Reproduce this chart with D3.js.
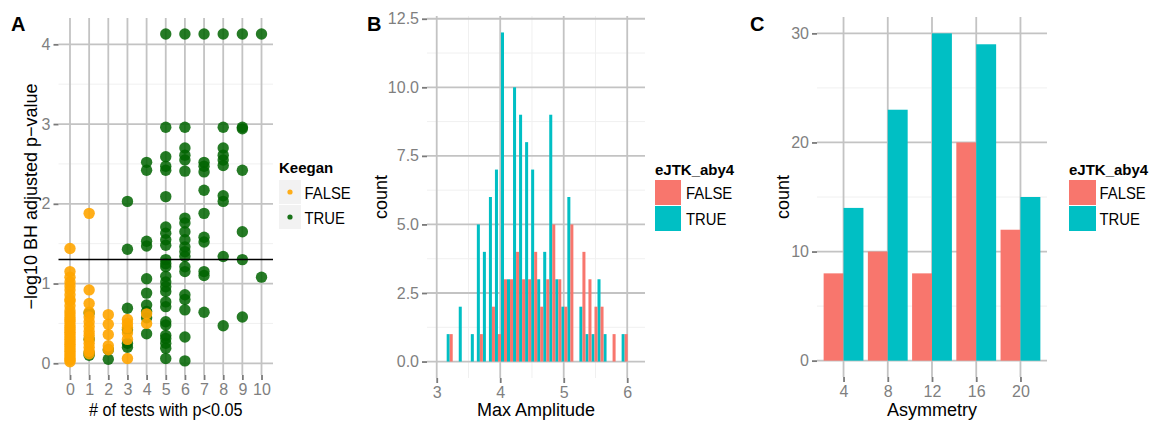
<!DOCTYPE html>
<html>
<head>
<meta charset="utf-8">
<script src="https://cdn.jsdelivr.net/npm/d3@7"></script>
<style>
  body { margin: 0; background: #fff; }
  svg text { font-family: "Liberation Sans", Arial, Helvetica, sans-serif; }
</style>
</head>
<body>
<svg id="fig" width="1153" height="421"></svg>
<script>
// ---------- Panel A: -log10 BH adjusted p-value by number of tests with p<0.05 ----------
const testCounts = [0, 1, 2, 3, 4, 5, 6, 7, 8, 9, 10];
// index = number of tests with p<0.05
const keeganFalse = [
  [1.44, 1.15, 1.08, 1.02, 0.97, 0.92, 0.86, 0.80, 0.78, 0.72, 0.66, 0.62, 0.58, 0.55, 0.52, 0.48,
   0.45, 0.42, 0.39, 0.36, 0.33, 0.30, 0.27, 0.24, 0.21, 0.18, 0.15, 0.12, 0.09, 0.06, 0.04, 0.02],
  [1.88, 0.92, 0.75, 0.64, 0.58, 0.52, 0.46, 0.40, 0.35, 0.30, 0.25, 0.20, 0.15, 0.12],
  [0.61, 0.49, 0.36, 0.22, 0.17],
  [0.55, 0.50, 0.45, 0.38, 0.30, 0.06],
  [0.62, 0.50],
  [], [], [], [], [], []
];
const keeganTrue = [
  [],
  [0.63, 0.30, 0.13, 0.10],
  [0.17, 0.05],
  [2.03, 1.43, 0.69, 0.42, 0.25, 0.20],
  [2.52, 2.42, 1.53, 1.47, 1.06, 0.88, 0.73, 0.65, 0.57, 0.37],
  [4.13, 2.96, 2.59, 2.47, 2.42, 2.09, 1.71, 1.63, 1.55, 1.48, 1.30, 1.25, 1.21, 1.09, 1.02, 0.96,
   0.90, 0.77, 0.71, 0.52, 0.48, 0.35, 0.31, 0.25, 0.19, 0.06],
  [4.13, 2.96, 2.70, 2.61, 2.55, 2.41, 1.82, 1.76, 1.65, 1.55, 1.46, 1.40, 1.34, 1.21, 1.15, 0.86,
   0.80, 0.67, 0.33, 0.03],
  [4.13, 2.52, 2.47, 2.40, 2.17, 1.88, 1.58, 1.52, 1.15, 1.10, 0.64],
  [4.13, 2.96, 2.70, 2.61, 2.55, 2.48, 2.10, 2.03, 1.34, 0.47],
  [4.13, 2.96, 2.94, 2.42, 1.65, 1.30, 0.58],
  [4.13, 1.08]
];
const pThreshold = -Math.log10(0.05);
const ticksAx = [0, 1, 2, 3, 4, 5, 6, 7, 8, 9, 10];
const ticksAy = [0, 1, 2, 3, 4];

// ---------- Panel B: histogram of max amplitude (30 bins) ----------
const ampMin = 3.157;
const ampBinWidth = 0.095;
const ampCountTrue  = [1,0,2,0,1,5,4,6,7,12,3,10,9,8,7,3,4,9,3,2,6,0,2,1,1,3,1,0,0,1];
const ampCountFalse = [1,0,0,0,0,1,0,2,1,3,3,4,3,3,4,2,3,5,3,2,5,0,4,3,2,2,0,1,0,1];
const ticksBx = [3, 4, 5, 6];
const ticksBy = [0, 2.5, 5, 7.5, 10, 12.5];

// ---------- Panel C: counts by asymmetry ----------
const asymmetry = [4, 8, 12, 16, 20];
const asymFalse = [8, 10, 8, 20, 12];
const asymTrue  = [14, 23, 30, 29, 15];
const ticksCx = [4, 8, 12, 16, 20];
const ticksCy = [0, 10, 20, 30];

const groups = ["FALSE", "TRUE"];

// ---------- styling ----------
const MAJOR = "#c3c3c3", MINOR = "#f0f0f0", TICK = "#7a7a7a", TICKTXT = "#7f7f7f";
const RED = "#F8766D", CYAN = "#00BFC4", ORANGE = "#FFA500", GREEN = "#006400";

const svg = d3.select("#fig");

// condense a horizontal text element to a fraction of its natural width
function condense(sel, k) {
  sel.each(function () {
    const w = this.getComputedTextLength();
    d3.select(this).attr("textLength", w * k).attr("lengthAdjust", "spacingAndGlyphs");
  });
}

function drawGrid(g, x, y, xMajor, yMajor, xMinor, yMinor) {
  const [x0, x1] = x.range(), [y0, y1] = y.range();
  g.append("g").selectAll("line").data(yMinor).join("line")
    .attr("x1", x0).attr("x2", x1).attr("y1", d => y(d)).attr("y2", d => y(d))
    .attr("stroke", MINOR).attr("stroke-width", 1);
  g.append("g").selectAll("line").data(xMinor).join("line")
    .attr("y1", y0).attr("y2", y1).attr("x1", d => x(d)).attr("x2", d => x(d))
    .attr("stroke", MINOR).attr("stroke-width", 1);
  g.append("g").selectAll("line").data(yMajor).join("line")
    .attr("x1", x0).attr("x2", x1).attr("y1", d => y(d)).attr("y2", d => y(d))
    .attr("stroke", MAJOR).attr("stroke-width", 1.8);
  g.append("g").selectAll("line").data(xMajor).join("line")
    .attr("y1", y0).attr("y2", y1).attr("x1", d => x(d)).attr("x2", d => x(d))
    .attr("stroke", MAJOR).attr("stroke-width", 1.8);
}

function drawAxes(g, x, y, xTicks, yTicks, yFmt) {
  const ax = g.append("g")
    .attr("transform", `translate(0,${y.range()[0]})`)
    .call(d3.axisBottom(x).tickValues(xTicks).tickSize(5).tickPadding(4).tickFormat(d3.format("d")));
  const ay = g.append("g")
    .attr("transform", `translate(${x.range()[0]},0)`)
    .call(d3.axisLeft(y).tickValues(yTicks).tickSize(5).tickPadding(3).tickFormat(yFmt));
  [ax, ay].forEach(a => {
    a.attr("font-family", null).attr("font-size", null);
    a.select(".domain").remove();
    a.selectAll(".tick line").attr("stroke", TICK).attr("stroke-width", 1.8);
    a.selectAll(".tick text").attr("fill", TICKTXT).style("font-size", "16px");
  });
}

function axisTitles(g, x, y, xt, yt, yTitleX, xk) {
  const [x0, x1] = x.range(), [y0, y1] = y.range();
  const t = g.append("text").attr("x", (x0 + x1) / 2).attr("y", 416)
    .attr("text-anchor", "middle").style("font-size", "18px").attr("fill", "#000").text(xt);
  if (xk) condense(t, xk);
  g.append("text")
    .attr("transform", `translate(${yTitleX},${(y0 + y1) / 2}) rotate(-90)`)
    .attr("text-anchor", "middle").style("font-size", "18px").attr("fill", "#000").text(yt);
}

function panelLetter(x, t) {
  svg.append("text").attr("x", x).attr("y", 30.5).style("font-size", "20px")
    .style("font-weight", "bold").attr("fill", "#000").text(t);
}

function legendTitle(g, x, y, t) {
  g.append("text").attr("x", x).attr("y", y).style("font-size", "15px")
    .style("font-weight", "bold").attr("fill", "#000").text(t);
}
function legendLabel(g, x, y, t) {
  const s = g.append("text").attr("x", x).attr("y", y).style("font-size", "16.5px")
    .attr("fill", "#000").text(t);
  condense(s, 0.9);
}

// ================= Panel A =================
{
  const g = svg.append("g");
  const x = d3.scaleLinear().domain([-0.6, 10.6]).range([58.5, 273]);
  const y = d3.scaleLinear().domain([-0.147, 4.33]).range([375, 18]);
  drawGrid(g, x, y, ticksAx, ticksAy, [], [0.5, 1.5, 2.5, 3.5]);

  const ptsTrue = [], ptsFalse = [];
  testCounts.forEach(n => {
    keeganTrue[n].forEach(v => ptsTrue.push({ n, v }));
    keeganFalse[n].forEach(v => ptsFalse.push({ n, v }));
  });
  g.append("g").selectAll("circle").data(ptsTrue).join("circle")
    .attr("cx", d => x(d.n)).attr("cy", d => y(d.v)).attr("r", 5.7)
    .attr("fill", GREEN).attr("fill-opacity", 0.85);
  g.append("g").selectAll("circle").data(ptsFalse).join("circle")
    .attr("cx", d => x(d.n)).attr("cy", d => y(d.v)).attr("r", 5.7)
    .attr("fill", ORANGE).attr("fill-opacity", 0.9);

  g.append("line").attr("x1", x.range()[0]).attr("x2", x.range()[1])
    .attr("y1", y(pThreshold)).attr("y2", y(pThreshold))
    .attr("stroke", "#000").attr("stroke-width", 1.5);

  drawAxes(g, x, y, ticksAx, ticksAy, d3.format("d"));
  axisTitles(g, x, y, "# of tests with p<0.05", "\u2212log10 BH adjusted p\u2212value", 37, 0.9);
  panelLetter(11, "A");

  // legend
  const lg = svg.append("g");
  legendTitle(lg, 279, 172.5, "Keegan");
  const cols = { FALSE: ORANGE, TRUE: GREEN };
  groups.forEach((k, i) => {
    const ky = 180 + i * 25;
    lg.append("rect").attr("x", 279).attr("y", ky).attr("width", 22).attr("height", 24)
      .attr("fill", "#f2f2f2");
    lg.append("circle").attr("cx", 290).attr("cy", ky + 12).attr("r", 2.6)
      .attr("fill", cols[k]).attr("fill-opacity", 0.9);
    legendLabel(lg, 304.5, ky + 18.5, k);
  });
}

// ================= Panel B =================
{
  const g = svg.append("g");
  const x = d3.scaleLinear().domain([2.847, 6.28]).range([427, 645]);
  const y = d3.scaleLinear().domain([-0.6, 12.6]).range([378, 16]);
  drawGrid(g, x, y, ticksBx, ticksBy, [3.5, 4.5, 5.5], [1.25, 3.75, 6.25, 8.75, 11.25]);

  const bins = d3.range(ampCountTrue.length).map(i => {
    const s = ampMin + i * ampBinWidth;
    return { s, t: ampCountTrue[i], f: ampCountFalse[i] };
  });
  const half = ampBinWidth / 2;
  g.append("g").selectAll("rect").data(bins.filter(b => b.t > 0)).join("rect")
    .attr("x", d => x(d.s)).attr("width", d => x(d.s + half) - x(d.s))
    .attr("y", d => y(d.t)).attr("height", d => y(0) - y(d.t)).attr("fill", CYAN);
  g.append("g").selectAll("rect").data(bins.filter(b => b.f > 0)).join("rect")
    .attr("x", d => x(d.s + half)).attr("width", d => x(d.s + 2 * half) - x(d.s + half))
    .attr("y", d => y(d.f)).attr("height", d => y(0) - y(d.f)).attr("fill", RED);

  drawAxes(g, x, y, ticksBx, ticksBy, d3.format(".1f"));
  axisTitles(g, x, y, "Max Amplitude", "count", 387);
  panelLetter(367, "B");

  const lg = svg.append("g");
  legendTitle(lg, 655, 175, "eJTK_aby4");
  const cols = { FALSE: RED, TRUE: CYAN };
  groups.forEach((k, i) => {
    const ky = 180 + i * 26;
    lg.append("rect").attr("x", 655).attr("y", ky).attr("width", 26).attr("height", 25)
      .attr("fill", cols[k]);
    legendLabel(lg, 686, ky + 18.5, k);
  });
}

// ================= Panel C =================
{
  const g = svg.append("g");
  const x = d3.scaleLinear().domain([1.6, 22.4]).range([817, 1047]);
  const y = d3.scaleLinear().domain([-1.5, 31.5]).range([377, 17]);
  drawGrid(g, x, y, ticksCx, ticksCy, [], [5, 15, 25]);

  const barW = 1.8; // half of 0.9 * binwidth 4
  const rows = asymmetry.map((a, i) => ({ a, f: asymFalse[i], t: asymTrue[i] }));
  g.append("g").selectAll("rect").data(rows).join("rect")
    .attr("x", d => x(d.a - barW)).attr("width", d => x(d.a) - x(d.a - barW))
    .attr("y", d => y(d.f)).attr("height", d => y(0) - y(d.f)).attr("fill", RED);
  g.append("g").selectAll("rect").data(rows).join("rect")
    .attr("x", d => x(d.a)).attr("width", d => x(d.a + barW) - x(d.a))
    .attr("y", d => y(d.t)).attr("height", d => y(0) - y(d.t)).attr("fill", CYAN);

  drawAxes(g, x, y, ticksCx, ticksCy, d3.format("d"));
  axisTitles(g, x, y, "Asymmetry", "count", 789);
  panelLetter(750, "C");

  const lg = svg.append("g");
  legendTitle(lg, 1069, 175, "eJTK_aby4");
  const cols = { FALSE: RED, TRUE: CYAN };
  groups.forEach((k, i) => {
    const ky = 180 + i * 26;
    lg.append("rect").attr("x", 1069).attr("y", ky).attr("width", 27).attr("height", 25)
      .attr("fill", cols[k]);
    legendLabel(lg, 1099.5, ky + 18.5, k);
  });
}
</script>
</body>
</html>
